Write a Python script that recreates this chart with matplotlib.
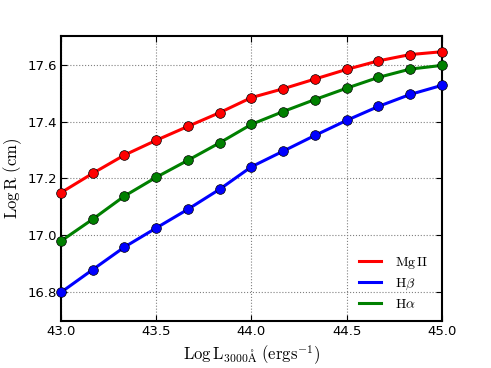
import matplotlib
matplotlib.use('Agg')
import matplotlib.pyplot as plt
from matplotlib.lines import Line2D

plt.rcParams['mathtext.fontset'] = 'cm'

# luminosity grid
log_l = [43.0, 43.167, 43.333, 43.5, 43.667, 43.833, 44.0,
         44.167, 44.333, 44.5, 44.667, 44.833, 45.0]

# radii for each line
mg2 = [17.150, 17.218, 17.282, 17.334, 17.383, 17.431, 17.484,
       17.515, 17.549, 17.583, 17.613, 17.635, 17.645]
hbeta = [16.800, 16.880, 16.959, 17.026, 17.092, 17.162, 17.241,
         17.296, 17.351, 17.404, 17.453, 17.495, 17.527]
halpha = [16.980, 17.057, 17.138, 17.204, 17.264, 17.325, 17.390,
          17.435, 17.477, 17.517, 17.555, 17.584, 17.597]

labels = [r'$\mathrm{Mg\,II}$', r'$\mathrm{H}\beta$', r'$\mathrm{H}\alpha$']
colors = ['red', 'blue', 'green']

fig = plt.figure(figsize=(4.91, 3.68), dpi=100)
ax = fig.add_axes([0.124, 0.128, 0.776, 0.774])

for ys, c in zip([mg2, hbeta, halpha], colors):
	ax.plot(log_l, ys, '-o', color=c, lw=2.2, ms=7, mec='black', mew=0.5, clip_on=False, zorder=3)

ax.set_xlim(43.0, 45.0)
ax.set_ylim(16.7, 17.7)
ax.set_xticks([43.0, 43.5, 44.0, 44.5, 45.0])
ax.set_yticks([16.8, 17.0, 17.2, 17.4, 17.6])
ax.grid(True, color='gray', linestyle=':', linewidth=0.8)
ax.tick_params(direction='in', top=True, right=True, labelsize=9.5, length=4, pad=3)
for s in ax.spines.values():
	s.set_linewidth(1.5)

ax.set_xlabel(r'$\mathrm{Log\,L_{3000\AA}}\ \mathrm{(ergs^{-1})}$', fontsize=12)
ax.set_ylabel(r'$\mathrm{Log\,R}\ \mathrm{(cm)}$', fontsize=12)
ax.yaxis.set_label_coords(-0.098, 0.5)

handles = [Line2D([], [], color=c, lw=2.2) for c in colors]
ax.legend(handles, labels, loc='lower right', frameon=False, fontsize=10,
	handlelength=1.6, bbox_to_anchor=(0.99, 0.0), borderaxespad=0.3,
	labelspacing=0.35, handletextpad=1.0)

fig.savefig('out.png', dpi=100)
